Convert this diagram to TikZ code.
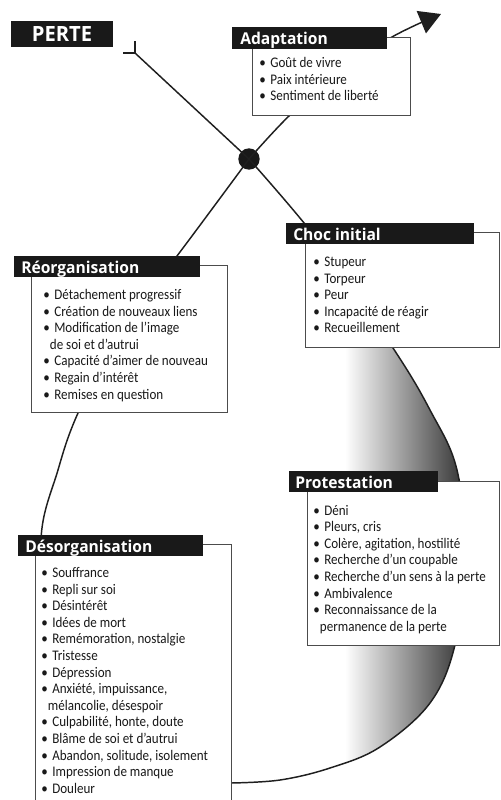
\documentclass[tikz,border=0pt]{standalone}
\usepackage{fontspec}
\setmainfont{Carlito}[FakeStretch=0.89]
\newfontfamily\titlefont{Open Sans}[FakeStretch=0.96]
\usetikzlibrary{arrows.meta,fit}
\newcommand\bul{\makebox[8.3pt][l]{•}}
\newcommand\cont{\hspace*{5pt}}
\begin{document}
\begin{tikzpicture}[x=0.75pt,y=-0.75pt,
  curve/.style={line width=1.1pt, draw=black!88},
  box/.style={draw=black!70, line width=0.55pt, fill=white, inner sep=0pt},
  bar/.style={fill=black!90, inner sep=0pt},
  ttl/.style={font=\titlefont\bfseries\fontsize{12.2}{14}\selectfont, text=white, anchor=base west, inner sep=0pt},
  item/.style={font=\fontsize{11}{12}\selectfont, text=black!90, anchor=base west, inner sep=0pt}]
\clip (0,0) rectangle (500,800);
\fill[white] (0,0) rectangle (500,800);

% key points
\coordinate (tail) at (135,53);
\coordinate (cs) at (231,783);

% shading inside the right arc
\begin{scope}
\clip plot[smooth,tension=0.6] coordinates {(249,159) (320,243) (393,348) (430,410) (457,470) (466,560) (455,645) (430,703) (380,747) (330,768) (280,780) (231,783)} -- cycle;
\shade[left color=white, right color=black!82] (345,300) rectangle (468,790);
\end{scope}

% the path
\node[circle, fill=black!90, minimum size=16pt, inner sep=0pt] (dot) at (249,159) {};
\draw[curve] (tail) -- (dot.center);
\draw[curve] (tail) -- ++(-12,0);
\draw[curve] (tail) -- ++(0,-12);
\draw[curve] plot[smooth,tension=0.6] coordinates {(dot.center) (320,243) (393,348) (430,410) (457,470) (466,560) (455,645) (430,703) (380,747) (330,768) (280,780) (cs)};
\draw[curve] plot[smooth,tension=0.6] coordinates {(cs) (150,772) (85,725) (52,640) (41,540) (58,470) (78,413) (120,330) (177,256) (dot.center)};
\draw[curve, -{Triangle[length=16pt,width=18pt]}] plot[smooth,tension=0.6] coordinates {(dot.center) (290,115) (340,72) (392,37) (441,14)};

% PERTE
\node[fill=black!90, minimum width=76.5pt, minimum height=19.5pt, inner sep=0pt, text=white, font=\titlefont\bfseries\fontsize{15.75}{18}\selectfont] (perte) at (62,34) {PERTE};

% Adaptation
\node[box, fit={(252,37) (410,115)}] (adaptbox) {};
\node[bar, fit={(232,27) (387,49)}] (adapttitle) {};
\node[ttl] (adaptlabel) at (240,44) {Adaptation};
\foreach \t [count=\i] in {{\bul Goût de vivre},{\bul Paix intérieure},{\bul Sentiment de liberté}}
  \node[item] (adapt-\i) at (259,{67.5+16.6*(\i-1)}) {\t};

% Choc initial
\node[box, fit={(305,232) (499.5,347)}] (chocbox) {};
\node[bar, fit={(286,223) (474,244)}] (choctitle) {};
\node[ttl] (choclabel) at (293,240) {Choc initial};
\foreach \t [count=\i] in {{\bul Stupeur},{\bul Torpeur},{\bul Peur},{\bul Incapacité de réagir},{\bul Recueillement}}
  \node[item] (choc-\i) at (313,{266.5+16.6*(\i-1)}) {\t};

% Protestation
\node[box, fit={(307,481) (499.5,645)}] (protbox) {};
\node[bar, fit={(289,471) (438,492)}] (prottitle) {};
\node[ttl] (protlabel) at (295,488) {Protestation};
\foreach \t [count=\i] in {{\bul Déni},{\bul Pleurs, cris},{\bul Colère, agitation, hostilité},{\bul Recherche d'un coupable},{\bul Recherche d'un sens à la perte},{\bul Ambivalence},{\bul Reconnaissance de la},{\cont permanence de la perte}}
  \node[item] (prot-\i) at (313,{515+16.6*(\i-1)}) {\t};

% Réorganisation
\node[box, fit={(31,265) (227,412)}] (reorgbox) {};
\node[bar, fit={(14,256) (200,277)}] (reorgtitle) {};
\node[ttl] (reorglabel) at (21,273) {Réorganisation};
\foreach \t [count=\i] in {{\bul Détachement progressif},{\bul Création de nouveaux liens},{\bul Modification de l'image},{\cont de soi et d'autrui},{\bul Capacité d'aimer de nouveau},{\bul Regain d'intérêt},{\bul Remises en question}}
  \node[item] (reorg-\i) at (43,{299.5+16.6*(\i-1)}) {\t};

% Désorganisation
\node[box, fit={(35,544) (231,820)}] (desbox) {};
\node[bar, fit={(18,535) (203,556)}] (destitle) {};
\node[ttl] (deslabel) at (25,552) {Désorganisation};
\foreach \t [count=\i] in {{\bul Souffrance},{\bul Repli sur soi},{\bul Désintérêt},{\bul Idées de mort},{\bul Remémoration, nostalgie},{\bul Tristesse},{\bul Dépression},{\bul Anxiété, impuissance,},{\cont mélancolie, désespoir},{\bul Culpabilité, honte, doute},{\bul Blâme de soi et d'autrui},{\bul Abandon, solitude, isolement},{\bul Impression de manque},{\bul Douleur}}
  \node[item] (des-\i) at (41,{577.5+16.6*(\i-1)}) {\t};
\end{tikzpicture}
\end{document}
